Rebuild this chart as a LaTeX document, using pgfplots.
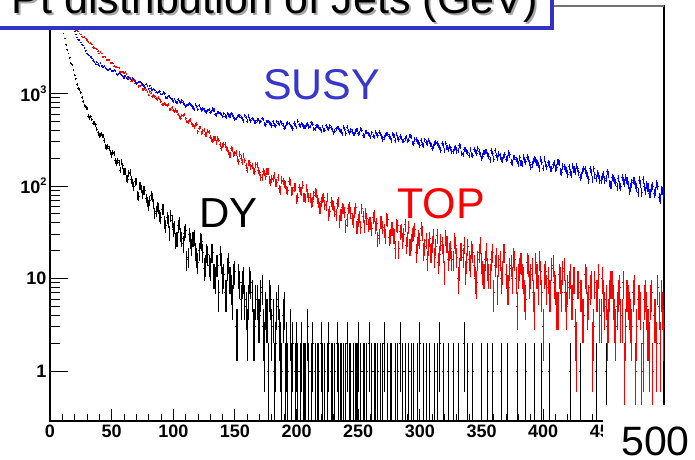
\documentclass[border=0pt]{standalone}
\usepackage{fontspec}
\setmainfont{Liberation Sans}
\usepackage{pgfplots}
\usepackage{pgfplotstable}
\pgfplotsset{compat=1.18}
\definecolor{labblue}{RGB}{55,55,205}
\definecolor{boxblue}{RGB}{50,50,200}

% SUSY, odd bins
\pgfplotstableread[row sep=\\]{x y\\
9 9800\\ 11 8650\\ 13 7620\\ 15 6650\\ 17 5780\\ 19 5060\\ 21 4346\\ 23 3825\\ 25 3568\\ 27 3305\\ 29 2908\\ 31 2623\\ 33 2504\\ 35 2290\\ 37 2086\\ 39 2077\\ 41 2126\\ 43 1929\\ 45 1904\\ 47 1797\\ 49 1828\\ 51 1737\\ 53 1754\\ 55 1598\\ 57 1630\\ 59 1546\\ 61 1552\\ 63 1434\\ 65 1451\\ 67 1456\\ 69 1350\\ 71 1292\\ 73 1330\\ 75 1255\\ 77 1164\\ 79 1206\\ 81 1214\\ 83 1092\\ 85 1092\\ 87 1018\\ 89 1049\\ 91 984\\ 93 1003\\ 95 893\\ 97 925\\ 99 866\\
101 873\\ 103 800\\ 105 824\\ 107 839\\ 109 769\\ 111 738\\ 113 779\\ 115 735\\ 117 678\\ 119 723\\ 121 744\\ 123 664\\ 125 675\\ 127 633\\ 129 671\\ 131 635\\ 133 663\\ 135 586\\ 137 624\\ 139 589\\ 141 613\\ 143 560\\ 145 588\\ 147 610\\ 149 557\\ 151 539\\ 153 580\\ 155 548\\ 157 504\\ 159 549\\ 161 574\\ 163 508\\ 165 523\\ 167 489\\ 169 527\\ 171 498\\ 173 526\\ 175 461\\ 177 498\\ 179 469\\ 181 493\\ 183 448\\ 185 477\\ 187 498\\ 189 453\\ 191 439\\ 193 478\\ 195 451\\ 197 414\\ 199 457\\
201 504\\ 203 444\\ 205 460\\ 207 431\\ 209 467\\ 211 441\\ 213 468\\ 215 409\\ 217 445\\ 219 419\\ 221 441\\ 223 399\\ 225 427\\ 227 448\\ 229 406\\ 231 393\\ 233 429\\ 235 404\\ 237 369\\ 239 410\\ 241 433\\ 243 378\\ 245 393\\ 247 365\\ 249 400\\ 251 376\\ 253 402\\ 255 347\\ 257 381\\ 259 356\\ 261 377\\ 263 338\\ 265 364\\ 267 383\\ 269 344\\ 271 332\\ 273 365\\ 275 342\\ 277 310\\ 279 347\\ 281 369\\ 283 318\\ 285 332\\ 287 306\\ 289 337\\ 291 314\\ 293 338\\ 295 287\\ 297 318\\ 299 296\\
301 313\\ 303 276\\ 305 298\\ 307 315\\ 309 278\\ 311 266\\ 313 295\\ 315 273\\ 317 242\\ 319 275\\ 321 292\\ 323 247\\ 325 258\\ 327 237\\ 329 264\\ 331 245\\ 333 265\\ 335 221\\ 337 248\\ 339 229\\ 341 247\\ 343 215\\ 345 236\\ 347 252\\ 349 220\\ 351 211\\ 353 238\\ 355 220\\ 357 193\\ 359 224\\ 361 241\\ 363 201\\ 365 212\\ 367 193\\ 369 218\\ 371 200\\ 373 218\\ 375 178\\ 377 203\\ 379 186\\ 381 202\\ 383 173\\ 385 192\\ 387 206\\ 389 179\\ 391 170\\ 393 195\\ 395 178\\ 397 155\\ 399 182\\
401 197\\ 403 161\\ 405 171\\ 407 153\\ 409 176\\ 411 159\\ 413 176\\ 415 140\\ 417 162\\ 419 147\\ 421 161\\ 423 135\\ 425 152\\ 427 164\\ 429 139\\ 431 131\\ 433 153\\ 435 138\\ 437 117\\ 439 141\\ 441 154\\ 443 122\\ 445 130\\ 447 115\\ 449 134\\ 451 121\\ 453 135\\ 455 104\\ 457 122\\ 459 110\\ 461 121\\ 463 99\\ 465 114\\ 467 125\\ 469 103\\ 471 97\\ 473 115\\ 475 103\\ 477 85\\ 479 106\\ 481 117\\ 483 89\\ 485 97\\ 487 83\\ 489 100\\ 491 88\\ 493 100\\ 495 73\\ 497 89\\ 499 77\\
}\susytab
% SUSY, even bins
\pgfplotstableread[row sep=\\]{x y\\
10 9200\\ 12 8100\\ 14 7100\\ 16 6200\\ 18 5400\\ 20 4700\\ 22 4042\\ 24 3793\\ 26 3368\\ 28 3109\\ 30 2710\\ 32 2580\\ 34 2419\\ 36 2196\\ 38 2173\\ 40 1986\\ 42 2004\\ 44 1965\\ 46 1825\\ 48 1828\\ 50 1743\\ 52 1797\\ 54 1629\\ 56 1652\\ 58 1586\\ 60 1489\\ 62 1467\\ 64 1506\\ 66 1412\\ 68 1408\\ 70 1283\\ 72 1322\\ 74 1308\\ 76 1220\\ 78 1257\\ 80 1124\\ 82 1135\\ 84 1127\\ 86 1035\\ 88 1045\\ 90 986\\ 92 1032\\ 94 913\\ 96 938\\ 98 894\\ 100 826\\
102 818\\ 104 859\\ 106 800\\ 108 808\\ 110 724\\ 112 767\\ 114 769\\ 116 715\\ 118 757\\ 120 666\\ 122 691\\ 124 697\\ 126 638\\ 128 661\\ 130 629\\ 132 680\\ 134 595\\ 136 628\\ 138 606\\ 140 563\\ 142 570\\ 144 614\\ 146 572\\ 148 587\\ 150 523\\ 152 566\\ 154 574\\ 156 532\\ 158 575\\ 160 502\\ 162 529\\ 164 539\\ 166 492\\ 168 517\\ 170 491\\ 172 539\\ 174 467\\ 176 500\\ 178 482\\ 180 447\\ 182 456\\ 184 498\\ 186 464\\ 188 479\\ 190 424\\ 192 465\\ 194 474\\ 196 439\\ 198 480\\ 200 429\\
202 463\\ 204 474\\ 206 433\\ 208 456\\ 210 433\\ 212 481\\ 214 415\\ 216 446\\ 218 431\\ 220 398\\ 222 406\\ 224 447\\ 226 415\\ 228 429\\ 230 377\\ 232 417\\ 234 425\\ 236 392\\ 238 431\\ 240 370\\ 242 395\\ 244 406\\ 246 367\\ 248 389\\ 250 369\\ 252 413\\ 254 352\\ 256 382\\ 258 367\\ 260 337\\ 262 345\\ 264 382\\ 266 352\\ 268 366\\ 270 318\\ 272 354\\ 274 362\\ 276 331\\ 278 366\\ 280 311\\ 282 334\\ 284 344\\ 286 308\\ 288 327\\ 290 308\\ 292 348\\ 294 292\\ 296 319\\ 298 305\\ 300 277\\
302 283\\ 304 316\\ 306 288\\ 308 299\\ 310 254\\ 312 286\\ 314 292\\ 316 262\\ 318 292\\ 320 242\\ 322 262\\ 324 269\\ 326 238\\ 328 256\\ 330 240\\ 332 274\\ 334 225\\ 336 249\\ 338 237\\ 340 214\\ 342 220\\ 344 250\\ 346 227\\ 348 238\\ 350 199\\ 352 229\\ 354 236\\ 356 211\\ 358 240\\ 360 195\\ 362 213\\ 364 222\\ 366 194\\ 368 210\\ 370 195\\ 372 227\\ 374 182\\ 376 204\\ 378 194\\ 380 172\\ 382 179\\ 384 205\\ 386 184\\ 388 195\\ 390 160\\ 392 186\\ 394 192\\ 396 170\\ 398 196\\ 400 156\\
402 172\\ 404 179\\ 406 154\\ 408 169\\ 410 155\\ 412 184\\ 414 144\\ 416 163\\ 418 154\\ 420 134\\ 422 140\\ 424 164\\ 426 145\\ 428 153\\ 430 123\\ 432 146\\ 434 151\\ 436 131\\ 438 154\\ 440 118\\ 442 132\\ 444 138\\ 446 116\\ 448 128\\ 450 116\\ 452 142\\ 454 107\\ 456 123\\ 458 115\\ 460 99\\ 462 103\\ 464 124\\ 466 108\\ 468 115\\ 470 89\\ 472 109\\ 474 113\\ 476 97\\ 478 116\\ 480 86\\ 482 98\\ 484 103\\ 486 84\\ 488 95\\ 490 84\\ 492 106\\ 494 76\\ 496 90\\ 498 82\\
}\susytabB

% TOP, odd bins
\pgfplotstableread[row sep=\\]{x y\\
9 8300\\ 11 7600\\ 13 6950\\ 15 6350\\ 17 5800\\ 19 5300\\ 21 4824\\ 23 4725\\ 25 4387\\ 27 4066\\ 29 3956\\ 31 3642\\ 33 3519\\ 35 3173\\ 37 3082\\ 39 2868\\ 41 2798\\ 43 2489\\ 45 2470\\ 47 2300\\ 49 2139\\ 51 2139\\ 53 1948\\ 55 1915\\ 57 1717\\ 59 1712\\ 61 1690\\ 63 1495\\ 65 1479\\ 67 1383\\ 69 1291\\ 71 1310\\ 73 1203\\ 75 1106\\ 77 1130\\ 79 1040\\ 81 1054\\ 83 929\\ 85 932\\ 87 862\\ 89 872\\ 91 754\\ 93 787\\ 95 735\\ 97 676\\ 99 709\\
101 634\\ 103 640\\ 105 556\\ 107 575\\ 109 590\\ 111 499\\ 113 509\\ 115 473\\ 117 439\\ 119 466\\ 121 420\\ 123 374\\ 125 401\\ 127 361\\ 129 383\\ 131 318\\ 133 328\\ 135 297\\ 137 314\\ 139 252\\ 141 280\\ 143 258\\ 145 230\\ 147 257\\ 149 219\\ 151 228\\ 153 184\\ 155 200\\ 157 214\\ 159 166\\ 161 177\\ 163 161\\ 165 148\\ 167 169\\ 169 147\\ 171 125\\ 173 145\\ 175 127\\ 177 144\\ 179 110\\ 181 122\\ 183 109\\ 185 124\\ 187 90\\ 189 112\\ 191 103\\ 193 89\\ 195 110\\ 197 89\\ 199 99\\
201 75\\ 203 89\\ 205 102\\ 207 74\\ 209 83\\ 211 75\\ 213 68\\ 215 85\\ 217 72\\ 219 58\\ 221 74\\ 223 63\\ 225 76\\ 227 53\\ 229 63\\ 231 53\\ 233 65\\ 235 42\\ 237 58\\ 239 52\\ 241 43\\ 243 59\\ 245 45\\ 247 52\\ 249 36\\ 251 47\\ 253 57\\ 255 37\\ 257 45\\ 259 40\\ 261 35\\ 263 48\\ 265 39\\ 267 29\\ 269 41\\ 271 33\\ 273 44\\ 275 28\\ 277 35\\ 279 29\\ 281 38\\ 283 21\\ 285 33\\ 287 30\\ 289 23\\ 291 36\\ 293 25\\ 295 31\\ 297 19\\ 299 28\\
301 35\\ 303 20\\ 305 26\\ 307 22\\ 309 19\\ 311 29\\ 313 22\\ 315 15\\ 317 25\\ 319 19\\ 321 28\\ 323 16\\ 325 21\\ 327 16\\ 329 23\\ 331 10\\ 333 20\\ 335 17\\ 337 12\\ 339 22\\ 341 14\\ 343 19\\ 345 10\\ 347 16\\ 349 23\\ 351 12\\ 353 16\\ 355 13\\ 357 11\\ 359 19\\ 361 14\\ 363 8\\ 365 16\\ 367 12\\ 369 19\\ 371 8\\ 373 13\\ 375 10\\ 377 16\\ 379 5\\ 381 13\\ 383 11\\ 385 7\\ 387 15\\ 389 9\\ 391 13\\ 393 5\\ 395 11\\ 397 16\\ 399 7\\
401 11\\ 403 8\\ 405 7\\ 407 13\\ 409 9\\ 411 5\\ 413 11\\ 415 7\\ 417 13\\ 419 5\\ 421 9\\ 423 6\\ 425 10\\ 427 2\\ 429 9\\ 431 7\\ 433 4\\ 435 10\\ 437 6\\ 439 9\\ 441 3\\ 443 7\\ 445 11\\ 447 4\\ 449 7\\ 451 6\\ 453 4\\ 455 9\\ 457 6\\ 459 3\\ 461 7\\ 463 4\\ 465 9\\ 467 3\\ 469 6\\ 471 4\\ 473 7\\ 475 1\\ 477 6\\ 479 5\\ 481 2\\ 483 7\\ 485 3\\ 487 6\\ 489 1\\ 491 4\\ 493 8\\ 495 2\\ 497 5\\ 499 4\\
}\toptab
% TOP, even bins
\pgfplotstableread[row sep=\\]{x y\\
10 7950\\ 12 7270\\ 14 6650\\ 16 6075\\ 18 5550\\ 20 5090\\ 22 4838\\ 24 4478\\ 26 4161\\ 28 4082\\ 30 3792\\ 32 3481\\ 34 3411\\ 36 3106\\ 38 3007\\ 40 2719\\ 42 2712\\ 44 2525\\ 46 2331\\ 48 2326\\ 50 2121\\ 52 1971\\ 54 1951\\ 56 1890\\ 58 1719\\ 60 1655\\ 62 1618\\ 64 1480\\ 66 1365\\ 68 1388\\ 70 1297\\ 72 1195\\ 74 1226\\ 76 1102\\ 78 1091\\ 80 964\\ 82 1011\\ 84 949\\ 86 876\\ 88 910\\ 90 813\\ 92 753\\ 94 768\\ 96 758\\ 98 677\\ 100 661\\
102 663\\ 104 596\\ 106 541\\ 108 576\\ 110 536\\ 112 486\\ 114 520\\ 116 451\\ 118 457\\ 120 388\\ 122 429\\ 124 397\\ 126 360\\ 128 391\\ 130 337\\ 132 306\\ 134 325\\ 136 325\\ 138 280\\ 140 276\\ 142 283\\ 144 246\\ 146 217\\ 148 246\\ 150 224\\ 152 196\\ 154 222\\ 156 181\\ 158 189\\ 160 149\\ 162 180\\ 164 165\\ 166 145\\ 168 170\\ 170 139\\ 172 123\\ 174 139\\ 176 143\\ 178 117\\ 180 119\\ 182 129\\ 184 109\\ 186 93\\ 188 116\\ 190 106\\ 192 91\\ 194 113\\ 196 88\\ 198 97\\ 200 72\\
202 96\\ 204 88\\ 206 76\\ 208 95\\ 210 75\\ 212 66\\ 214 79\\ 216 84\\ 218 66\\ 220 68\\ 222 76\\ 224 61\\ 226 49\\ 228 67\\ 230 61\\ 232 49\\ 234 67\\ 236 49\\ 238 57\\ 240 37\\ 242 57\\ 244 51\\ 246 42\\ 248 58\\ 250 43\\ 252 36\\ 254 47\\ 256 51\\ 258 38\\ 260 40\\ 262 46\\ 264 36\\ 266 27\\ 268 41\\ 270 36\\ 272 29\\ 274 43\\ 276 29\\ 278 35\\ 280 21\\ 282 37\\ 284 32\\ 286 26\\ 288 38\\ 290 27\\ 292 22\\ 294 30\\ 296 34\\ 298 23\\ 300 26\\
302 31\\ 304 22\\ 306 16\\ 308 27\\ 310 24\\ 312 17\\ 314 29\\ 316 18\\ 318 23\\ 320 12\\ 322 24\\ 324 20\\ 326 16\\ 328 26\\ 330 17\\ 332 13\\ 334 20\\ 336 23\\ 338 15\\ 340 16\\ 342 21\\ 344 14\\ 346 9\\ 348 19\\ 350 15\\ 352 11\\ 354 20\\ 356 11\\ 358 16\\ 360 7\\ 362 17\\ 364 14\\ 366 10\\ 368 19\\ 370 11\\ 372 8\\ 374 14\\ 376 17\\ 378 10\\ 380 11\\ 382 15\\ 384 10\\ 386 6\\ 388 14\\ 390 11\\ 392 7\\ 394 15\\ 396 8\\ 398 12\\ 400 3\\
402 12\\ 404 10\\ 406 7\\ 408 14\\ 410 8\\ 412 5\\ 414 10\\ 416 12\\ 418 7\\ 420 8\\ 422 11\\ 424 6\\ 426 3\\ 428 9\\ 430 7\\ 432 4\\ 434 11\\ 436 5\\ 438 8\\ 440 2\\ 442 9\\ 444 7\\ 446 4\\ 448 10\\ 450 5\\ 452 3\\ 454 7\\ 456 9\\ 458 4\\ 460 5\\ 462 8\\ 464 4\\ 466 1\\ 468 7\\ 470 5\\ 472 3\\ 474 8\\ 476 3\\ 478 6\\ 480 1\\ 482 6\\ 484 5\\ 486 2\\ 488 7\\ 490 4\\ 492 2\\ 494 5\\ 496 7\\ 498 3\\
}\toptabB

% DY
\pgfplotstableread[row sep=\\]{x y\\
9 5900\\ 11 4466\\ 13 3359\\ 15 2721\\ 17 2130\\ 19 1794\\ 21 1438\\ 23 1137\\ 25 1030\\ 27 818\\ 29 731\\ 31 570\\ 33 564\\ 35 477\\ 37 461\\ 39 378\\ 41 357\\ 43 345\\ 45 268\\ 47 268\\ 49 229\\ 51 231\\ 53 187\\ 55 187\\ 57 149\\ 59 165\\ 61 145\\ 63 119\\ 65 140\\ 67 108\\ 69 111\\ 71 79\\ 73 100\\ 75 82\\ 77 90\\ 79 67\\ 81 70\\ 83 76\\ 85 51\\ 87 60\\ 89 48\\ 91 56\\ 93 41\\ 95 46\\ 97 31\\ 99 42\\
101 36\\ 103 27\\ 105 40\\ 107 27\\ 109 31\\ 111 16\\ 113 30\\ 115 22\\ 117 28\\ 119 17\\ 121 20\\ 123 25\\ 125 13\\ 127 19\\ 129 14\\ 131 19\\ 133 11\\ 135 14\\ 137 7\\ 139 15\\ 141 11\\ 143 7\\ 145 15\\ 147 8\\ 149 11\\ 151 3\\ 153 11\\ 155 6\\ 157 10\\ 159 5\\ 161 6\\ 163 9\\ 165 3\\ 167 6\\ 169 4\\ 171 7\\ 173 3\\ 175 5\\ 177 1\\ 179 6\\ 181 4\\ 183 2\\ 185 6\\ 187 2\\ 189 4\\ 191 1\\
192 2\\ 193 1\\ 195 3\\ 196 1\\ 197 2\\ 199 1\\ 200 2\\ 201 1\\ 203 1\\ 204 2\\ 206 1\\ 207 1\\ 209 3\\ 210 1\\ 212 1\\ 213 2\\ 215 1\\ 217 1\\ 218 1\\ 220 2\\ 221 1\\ 223 1\\ 225 1\\ 226 2\\ 228 1\\ 229 1\\ 231 1\\ 233 2\\ 234 1\\ 236 1\\ 238 1\\ 240 1\\ 241 2\\ 243 1\\ 244 1\\ 246 1\\ 248 1\\ 249 1\\ 250 2\\ 252 1\\ 254 1\\ 255 1\\ 257 1\\ 259 2\\ 261 1\\ 263 1\\ 264 1\\ 266 1\\ 268 1\\ 270 1\\ 271 2\\ 274 1\\ 276 1\\ 277 1\\ 280 1\\ 282 1\\ 284 2\\ 286 1\\ 288 1\\ 291 1\\ 293 1\\ 295 1\\ 298 1\\ 300 2\\
303 1\\ 305 1\\ 308 1\\ 312 1\\ 314 1\\ 316 2\\ 319 1\\ 323 1\\ 327 1\\ 331 1\\ 336 2\\ 339 1\\ 343 1\\ 350 1\\ 355 1\\ 359 1\\ 366 1\\ 371 1\\ 379 1\\ 386 1\\ 393 1\\ 399 1\\ 405 1\\ 422 1\\ 430 1\\ 443 1\\ 451 1\\
}\dytab
\pgfplotstableread[row sep=\\]{x y\\
10 5057\\ 12 3951\\ 14 2975\\ 16 2450\\ 18 2045\\ 20 1574\\ 22 1253\\ 24 1101\\ 26 905\\ 28 745\\ 30 693\\ 32 541\\ 34 524\\ 36 479\\ 38 411\\ 40 353\\ 42 365\\ 44 309\\ 46 262\\ 48 257\\ 50 217\\ 52 225\\ 54 176\\ 56 178\\ 58 183\\ 60 144\\ 62 122\\ 64 136\\ 66 117\\ 68 99\\ 70 112\\ 72 78\\ 74 93\\ 76 90\\ 78 74\\ 80 62\\ 82 79\\ 84 64\\ 86 53\\ 88 58\\ 90 46\\ 92 56\\ 94 37\\ 96 42\\ 98 48\\ 100 34\\
102 26\\ 104 37\\ 106 30\\ 108 24\\ 110 33\\ 112 17\\ 114 26\\ 116 27\\ 118 20\\ 120 15\\ 122 26\\ 124 19\\ 126 14\\ 128 18\\ 130 13\\ 132 19\\ 134 10\\ 136 14\\ 138 18\\ 140 10\\ 142 7\\ 144 13\\ 146 10\\ 148 6\\ 150 12\\ 152 3\\ 154 9\\ 156 9\\ 158 6\\ 160 3\\ 162 10\\ 164 7\\ 166 3\\ 168 6\\ 170 4\\ 172 8\\ 174 2\\ 176 4\\ 178 7\\ 180 3\\ 182 1\\ 184 5\\ 186 3\\ 188 1\\ 190 5\\
}\dytabB

\pgfplotsset{
  histo/.style={only marks, mark=-, mark size=0.9pt,
    mark options={#1, line width=0.9pt},
    error bars/y dir=both, error bars/y explicit, error bars/error mark=none,
    error bars/error bar style={#1, line width=1.05pt}, color=#1},
  table/errs/.style={x=x, y=y, y error plus expr={sqrt(\thisrow{y})}, y error minus expr={min(sqrt(\thisrow{y}),0.99*\thisrow{y})}},
}

\begin{document}
\begin{tikzpicture}
\begin{axis}[
  at={(50pt,-421pt)}, anchor=south west,
  scale only axis, width=614pt, height=415pt,
  xmin=0, xmax=498,
  ymode=log, ymin=0.288, ymax=8830,
  xtick={0,50,...,450}, minor x tick num=4,
  ytick={1,10,100,1000},
  yticklabels={1,10,10\raisebox{0.42em}{\fontsize{11}{11}\selectfont\bfseries 2},10\raisebox{0.42em}{\fontsize{11}{11}\selectfont\bfseries 3}},
  xtick pos=bottom, ytick pos=left,
  tick align=inside,
  major tick length=18pt, minor tick length=10pt,
  every major x tick/.append style={/pgfplots/major tick length=12pt},
  every minor x tick/.append style={/pgfplots/minor tick length=7pt},
  tick style={black, line width=0.9pt},
  /pgf/number format/assume math mode=true,
  tick label style={font=\fontsize{18}{18}\selectfont\bfseries, text=black},
  axis line style={line width=1.1pt},
]
\addplot[histo=black] table[errs] {\dytab};
\addplot[histo=black] table[errs] {\dytabB};
\addplot[histo=red] table[errs] {\toptab};
\addplot[histo=red] table[errs] {\toptabB};
\addplot[histo=blue] table[errs] {\susytab};
\addplot[histo=blue] table[errs] {\susytabB};
\end{axis}
% top frame gray
\draw[black!55, line width=1.1pt] (552pt,-6pt) -- (664pt,-6pt);
% title pave
\draw[line width=3.5pt, draw=boxblue, fill=white] (-10pt,-28pt) rectangle (552pt,80pt);
\node[anchor=base west, inner sep=0pt, text=black!35, font=\fontsize{43}{43}\selectfont] at (13.5pt,-15pt) {Pt distribution of Jets (GeV)};
\node[anchor=base west, inner sep=0pt, text=black, font=\fontsize{43}{43}\selectfont] at (11.5pt,-13pt) {Pt distribution of Jets (GeV)};
% labels
\node[anchor=base west, inner sep=0pt, text=labblue, font=\fontsize{43}{43}\selectfont] at (263pt,-99pt) {SUSY};
\node[anchor=base west, inner sep=0pt, text=red, font=\fontsize{43}{43}\selectfont] at (397pt,-218pt) {TOP};
\node[anchor=base west, inner sep=0pt, text=black, font=\fontsize{42}{42}\selectfont] at (199pt,-227pt) {DY};
% 500 box
\fill[white] (603pt,-405pt) rectangle (700pt,-465pt);
\node[anchor=base west, inner sep=0pt, text=black, font=\fontsize{41}{41}\selectfont] at (621pt,-455pt) {500};
\pgfresetboundingbox
\path[use as bounding box] (0pt,0pt) rectangle (695pt,-459pt);
\end{tikzpicture}
\end{document}
